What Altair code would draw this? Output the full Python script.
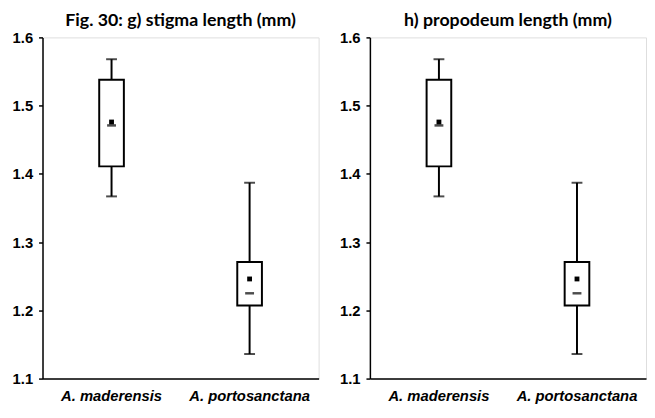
import altair as alt
import pandas as pd

species = ["A. maderensis", "A. portosanctana"]
whisker_low = [1.367, 1.136]
q1 = [1.411, 1.207]
q3 = [1.538, 1.271]
whisker_high = [1.568, 1.387]
mean = [1.476, 1.246]
median = [1.471, 1.225]
titles = ["Fig. 30: g) stigma length (mm)", "h) propodeum length (mm)"]
y_ticks = [1.1, 1.2, 1.3, 1.4, 1.5, 1.6]

df = pd.DataFrame({
    "species": species,
    "wlo": whisker_low,
    "q1": q1,
    "q3": q3,
    "whi": whisker_high,
    "mean": mean,
    "median": median,
})

W, H = 280, 346


def panel(title):
    x = alt.X("species:N", sort=species,
              scale=alt.Scale(paddingInner=0, paddingOuter=0),
              axis=alt.Axis(title=None, labelAngle=0, ticks=False,
                            labelFont="Liberation Sans", labelFontSize=15,
                            labelFontWeight="bold", labelFontStyle="italic",
                            labelColor="black", labelPadding=10,
                            domainColor="black", domainWidth=1.5))
    yscale = alt.Scale(domain=[1.1, 1.6], nice=False, zero=False)
    yaxis = alt.Axis(title=None, values=y_ticks, format=".1f", grid=False,
                     tickSize=4, tickColor="black", tickWidth=1.5,
                     labelFont="Liberation Sans", labelFontSize=15,
                     labelFontWeight="bold", labelColor="black",
                     labelPadding=6, domainColor="black", domainWidth=1.5)
    base = alt.Chart(df)
    lower = base.mark_rule(color="black", strokeWidth=2).encode(
        x=x, y=alt.Y("wlo:Q", scale=yscale, axis=yaxis), y2="q1:Q")
    upper = base.mark_rule(color="black", strokeWidth=2).encode(
        x=x, y=alt.Y("q3:Q", scale=yscale, axis=yaxis), y2="whi:Q")
    box = base.mark_bar(width=25, fill="white", stroke="black",
                        strokeWidth=2).encode(
        x=x, y=alt.Y("q1:Q", scale=yscale, axis=yaxis), y2="q3:Q")
    cap_lo = base.mark_tick(color="black", size=11, thickness=2,
                            orient="horizontal").encode(
        x=x, y=alt.Y("wlo:Q", scale=yscale, axis=yaxis))
    cap_hi = base.mark_tick(color="black", size=11, thickness=2,
                            orient="horizontal").encode(
        x=x, y=alt.Y("whi:Q", scale=yscale, axis=yaxis))
    med = base.mark_tick(color="black", size=9, thickness=2.5,
                         orient="horizontal").encode(
        x=x, y=alt.Y("median:Q", scale=yscale, axis=yaxis))
    mn = base.mark_square(color="black", size=24, opacity=1,
                          filled=True).encode(
        x=x, y=alt.Y("mean:Q", scale=yscale, axis=yaxis))
    ttl = alt.Chart(pd.DataFrame({"t": [title]})).mark_text(
        font="Lato", fontSize=18, fontWeight="bold", color="black",
        align="center", baseline="middle").encode(
        text="t:N", x=alt.value(W / 2), y=alt.value(-17))
    return alt.layer(lower, upper, box, cap_lo, cap_hi, med, mn, ttl).properties(
        width=W, height=H)


chart = alt.hconcat(panel(titles[0]), panel(titles[1]), spacing=19).properties(
    padding={"left": 3, "top": 0, "right": 0, "bottom": 0}
).configure_view(stroke=None).configure(background="white")

chart.save("out.html", embed_options={"renderer": "svg", "actions": False})
